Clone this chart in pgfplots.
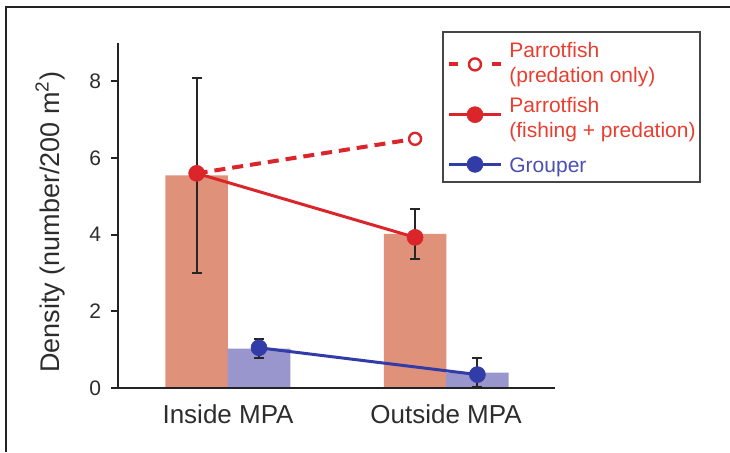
\documentclass[border=0pt]{standalone}
\usepackage{pgfplots}
\pgfplotsset{compat=1.18}
\usepackage{fontspec}
\setmainfont{Liberation Sans}
\definecolor{parrotbar}{RGB}{223,145,122}
\definecolor{grouperbar}{RGB}{153,150,205}
\definecolor{pred}{RGB}{218,38,42}
\definecolor{pblue}{RGB}{50,60,168}
\definecolor{tred}{RGB}{232,62,48}
\definecolor{tblue}{RGB}{75,78,178}
\definecolor{axisgray}{RGB}{35,35,35}
\definecolor{textgray}{RGB}{45,45,45}
\definecolor{legendgray}{RGB}{70,70,70}
\begin{document}
\begin{tikzpicture}
\useasboundingbox (0,0) rectangle (365pt,226pt);
\draw[line width=0.65pt, axisgray] (3pt,0pt) -- (3pt,222.5pt) -- (365pt,222.5pt);
\draw[line width=0.65pt, legendgray] (221.5pt,135pt) rectangle (350pt,210pt);
\begin{axis}[
  at={(59pt,32pt)}, anchor=south west,
  scale only axis, width=218.5pt, height=172.5pt,
  xmin=0.495, xmax=2.5, ymin=0, ymax=9,
  axis lines=left, axis line style={-, line width=1.2pt, axisgray},
  axis on top, clip=false,
  xtick={1,2}, xticklabels={Inside MPA, Outside MPA},
  xtick style={draw=none},
  ytick={0,2,4,6,8},
  ytick style={line width=1pt, axisgray},
  tick align=outside, major tick length=3.5pt,
  /pgf/number format/assume math mode=true,
  yticklabel style={font=\fontsize{10.5}{12}\selectfont, textgray, xshift=-1.5pt},
  xticklabel style={font=\fontsize{13}{15}\selectfont, textgray, yshift=-1.5pt},
  ylabel={Density (number/200 m\textsuperscript{2})},
  ylabel style={at={(rel axis cs:-0.1556,0.481)}, anchor=center, font=\fontsize{13.5}{15}\selectfont, textgray},
  legend style={at={(rel axis cs:0.7574,1.0067)}, anchor=north west, draw=none, fill=none,
    inner sep=0pt, row sep=0pt,
    nodes={inner sep=0pt},
    cells={anchor=base west, text height=8pt},
    font=\fontsize{10.5}{12}\selectfont,
    /tikz/every odd column/.append style={column sep=4.4pt}},
]
\addplot[ybar, bar width=0.287, bar shift=0pt, fill=parrotbar, draw=none, forget plot]
  coordinates {(0.856,5.55) (1.858,4.02)};
\addplot[ybar, bar width=0.287, bar shift=0pt, fill=grouperbar, draw=none, forget plot]
  coordinates {(1.142,1.03) (2.144,0.40)};
\addplot[pred, line width=2pt, dash pattern=on 5.5pt off 3.5pt, mark=*, mark size=3pt,
  mark options={solid, fill=white, draw=pred, line width=1.2pt},
  legend image code/.code={\path[draw=none] (0cm,0cm) -- (0.9cm,0cm);
    \begin{scope}[overlay, yshift=-3.65pt]
    \draw[dash pattern=on 4.5pt off 16.6pt] (0cm,0cm) -- (0.9cm,0cm);
    \draw[solid] plot[only marks] coordinates {(0.45cm,0cm)};
    \end{scope}}]
  coordinates {(0.856,5.6) (1.858,6.5)};
\addlegendentry[text=tred, text depth=4.5pt]{Parrotfish}
\addlegendimage{empty legend}
\addlegendentry[text=tred, text depth=7pt]{(predation only)}
\addplot[pred, line width=1.5pt, mark=*, mark size=4pt,
  mark options={draw=pred, fill=pred, line width=0.3pt},
  legend image code/.code={\path[draw=none] (0cm,0cm) -- (0.9cm,0cm);
    \begin{scope}[overlay, yshift=-1.3pt]
    \draw[mark repeat=2,mark phase=2] plot coordinates {(0cm,0cm)(0.45cm,0cm)(0.9cm,0cm)};
    \end{scope}},
  error bars/.cd, y dir=both, y explicit,
  error bar style={line width=1pt, black!85},
  error mark options={rotate=90, black!85, line width=1pt, mark size=2.5pt}]
  coordinates {(0.856,5.6) += (0,2.5) -= (0,2.6) (1.858,3.93) += (0,0.73) -= (0,0.56)};
\addlegendentry[text=tred, text depth=4.5pt]{Parrotfish}
\addlegendimage{empty legend}
\addlegendentry[text=tred, text depth=9.5pt]{(fishing + predation)}
\addplot[pblue, line width=1.5pt, mark=*, mark size=4pt,
  mark options={draw=pblue, fill=pblue, line width=0.3pt},
  legend image code/.code={\path[draw=none] (0cm,0cm) -- (0.9cm,0cm);
    \begin{scope}[overlay, yshift=3.85pt]
    \draw[mark repeat=2,mark phase=2] plot coordinates {(0cm,0cm)(0.45cm,0cm)(0.9cm,0cm)};
    \end{scope}},
  error bars/.cd, y dir=both, y explicit,
  error bar style={line width=1pt, black!85},
  error mark options={rotate=90, black!85, line width=1pt, mark size=2.5pt}]
  coordinates {(1.142,1.05) += (0,0.24) -= (0,0.26) (2.144,0.35) += (0,0.44) -= (0,0.32)};
\addlegendentry[text=tblue, text depth=3pt]{Grouper}
\end{axis}
\end{tikzpicture}
\end{document}
